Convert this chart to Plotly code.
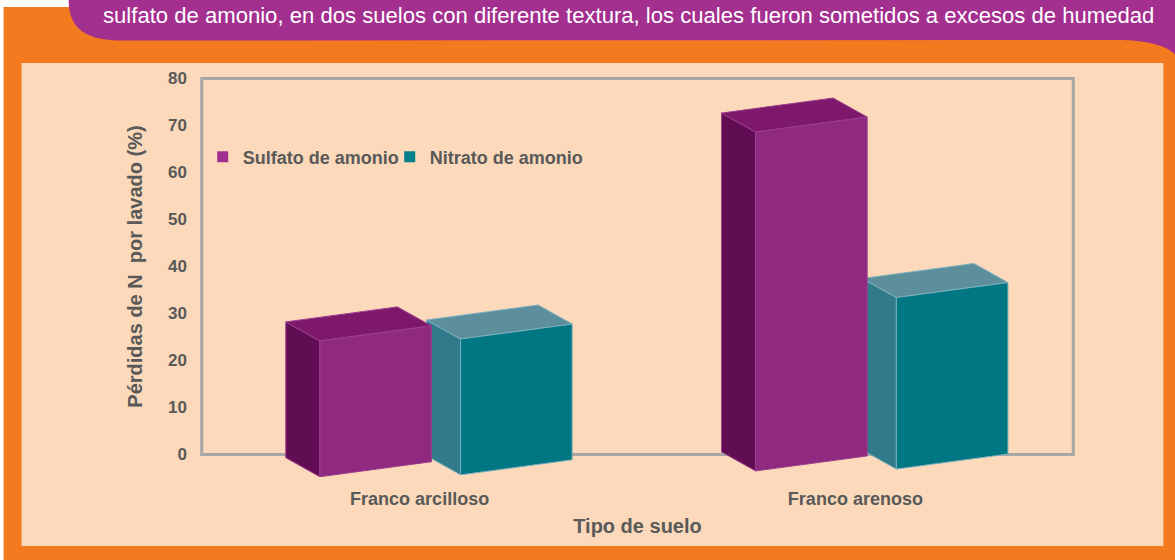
import plotly.graph_objects as go

# ---------------- data ----------------
categories = ["Franco arcilloso", "Franco arenoso"]
series_names = ["Sulfato de amonio", "Nitrato de amonio"]
sulfato = [28.9, 72.1]
nitrato = [28.9, 36.5]
y_ticks = [0, 10, 20, 30, 40, 50, 60, 70, 80]
header_text = ("sulfato de amonio, en dos suelos con diferente textura, "
               "los cuales fueron sometidos a excesos de humedad")
x_title = "Tipo de suelo"
y_title = "Pérdidas de N  por lavado (%)"

# ---------------- style / geometry ----------------
W, H = 1175, 560
L, R, T, B = 193.3, 93.3, 55, 82
X_RANGE = [-0.52, 1.52]
Y_RANGE = [-5, 85]
PW = W - L - R
PH = H - T - B
XU = PW / (X_RANGE[1] - X_RANGE[0])   # px per x unit
YU = PH / (Y_RANGE[1] - Y_RANGE[0])   # px per value unit

BAR_W = 111.5 / XU
SLANT = 15 / YU
DEPTH_X = -34 / XU
DEPTH_Y = 19 / YU
BASE_Y = -3.83
TILT = 1.23
series_offsets = [-0.229, 0.094]
legend_widths = [142, 175]

colors = {
    "Sulfato de amonio": dict(front="#902A80", side="#600D54", top="#7D186B",
                              line="#9C3C8C", legend="#A0308F"),
    "Nitrato de amonio": dict(front="#007782", side="#317A8B", top="#5C8E9C",
                              line="#7DB0BE", legend="#00808A"),
}
GRAY = "#595959"
FONT = "Liberation Sans"


def px2paper(px, py):
    return (px - L) / PW, (H - B - py) / PH


def ppath(points, closing=True):
    s = ""
    for cmd, pts in points:
        coords = []
        for (px, py) in pts:
            x, y = px2paper(px, py)
            coords.append(f"{x:.5f},{y:.5f}")
        s += cmd + " " + " ".join(coords) + " "
    if closing:
        s += "Z"
    return s


fig = go.Figure()

values = {"Sulfato de amonio": sulfato, "Nitrato de amonio": nitrato}


def bar_faces(ci, si, v):
    xf = ci + series_offsets[si]
    yb = BASE_Y + TILT * (xf - 0.5)
    FLB = (xf, yb)
    FRB = (xf + BAR_W, yb + SLANT)
    FLT = (xf, yb + v)
    FRT = (xf + BAR_W, yb + SLANT + v)
    BLB = (xf + DEPTH_X, yb + DEPTH_Y)
    BLT = (xf + DEPTH_X, yb + DEPTH_Y + v)
    BRT = (xf + BAR_W + DEPTH_X, yb + SLANT + DEPTH_Y + v)
    return {
        "side": [FLB, FLT, BLT, BLB],
        "top": [FLT, FRT, BRT, BLT],
        "front": [FLB, FRB, FRT, FLT],
    }


draw_order = [1, 0]  # nitrato behind, sulfato drawn over it
for ci, cat in enumerate(categories):
    for si in draw_order:
        name = series_names[si]
        v = values[name][ci]
        faces = bar_faces(ci, si, v)
        for face in ["side", "top", "front"]:
            pts = faces[face] + [faces[face][0]]
            fig.add_trace(go.Scatter(
                x=[p[0] for p in pts], y=[p[1] for p in pts],
                mode="lines", fill="toself",
                fillcolor=colors[name][face],
                line=dict(color=colors[name]["line"], width=1),
                hoverinfo="skip", showlegend=False,
            ))

# legend entries
for si, name in enumerate(series_names):
    fig.add_trace(go.Scatter(
        x=[None], y=[None], mode="markers", name=name,
        legendwidth=legend_widths[si],
        marker=dict(symbol="square", size=11, color=colors[name]["legend"]),
    ))

shapes = []
# orange frame
shapes.append(dict(type="rect", xref="paper", yref="paper",
                   x0=px2paper(4, 0)[0], x1=px2paper(1180, 0)[0],
                   y0=px2paper(0, 7)[1], y1=px2paper(0, 565)[1],
                   fillcolor="#F47A20", line=dict(width=0), layer="below"))
# purple banner
shapes.append(dict(type="path", xref="paper", yref="paper",
                   path=ppath([("M", [(69, -5)]), ("L", [(1180, -5)]), ("L", [(1180, 58)]),
                               ("L", [(1175, 55)]),
                               ("C", [(1168, 46), (1145, 40), (1117, 40)]),
                               ("L", [(124, 40.5)]),
                               ("C", [(95, 40.5), (69, 35), (69, 0)])]),
                   fillcolor="#A32F8F", line=dict(width=0), layer="below"))
# peach panel
shapes.append(dict(type="rect", xref="paper", yref="paper",
                   x0=px2paper(22, 0)[0], x1=px2paper(1163, 0)[0],
                   y0=px2paper(0, 63)[1], y1=px2paper(0, 546)[1],
                   fillcolor="#FCD9BA", line=dict(width=0), layer="below"))
# plot frame (data coords)
shapes.append(dict(type="rect", xref="x", yref="y",
                   x0=-0.5, x1=1.5, y0=0, y1=80,
                   line=dict(color="#A7A7A7", width=3), layer="below"))

annotations = [
    dict(text=header_text, xref="paper", yref="paper",
         x=px2paper(101, 0)[0], y=px2paper(0, 15)[1],
         xanchor="left", yanchor="middle", showarrow=False,
         font=dict(family=FONT, size=22.1, color="white")),
]

fig.update_layout(
    width=W, height=H,
    margin=dict(l=L, r=R, t=T, b=B, pad=0),
    paper_bgcolor="white", plot_bgcolor="rgba(0,0,0,0)",
    shapes=shapes, annotations=annotations,
    showlegend=True,
    legend=dict(orientation="h", x=px2paper(203, 0)[0], xanchor="left",
                y=px2paper(0, 157)[1], yanchor="middle",
                bgcolor="rgba(0,0,0,0)",
                font=dict(family=FONT, size=18, color=GRAY, weight="bold")),
    xaxis=dict(range=X_RANGE, tickvals=[0, 1], ticktext=categories,
               showgrid=False, zeroline=False, showline=False, ticks="",
               ticklabelstandoff=8,
               tickfont=dict(family=FONT, size=18, color=GRAY, weight="bold"),
               title=dict(text=x_title, standoff=10,
                          font=dict(family=FONT, size=20, color=GRAY, weight="bold"))),
    yaxis=dict(range=Y_RANGE, tickvals=y_ticks,
               showgrid=False, zeroline=False, showline=False, ticks="",
               ticklabelstandoff=5,
               tickfont=dict(family=FONT, size=17, color=GRAY, weight="bold"),
               title=dict(text=y_title, standoff=20,
                          font=dict(family=FONT, size=20, color=GRAY, weight="bold"))),
)

fig.write_html("out.html")
